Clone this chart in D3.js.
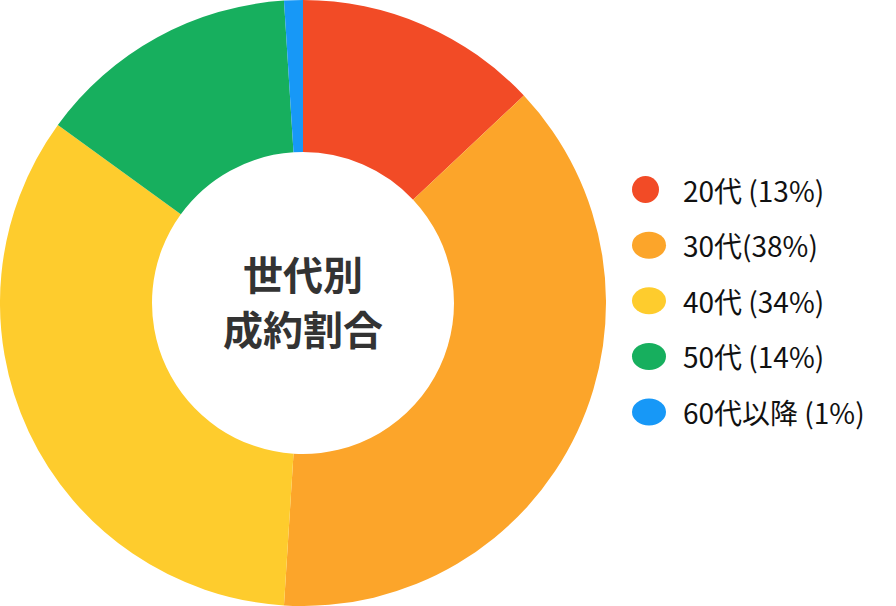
<!DOCTYPE html>
<html>
<head>
<meta charset="utf-8">
<script src="https://cdn.jsdelivr.net/npm/d3@7/dist/d3.min.js"></script>
<style>
  html, body { margin: 0; padding: 0; background: #fff; }
  svg { display: block; font-family: "Noto Sans CJK JP", "Noto Sans", sans-serif; }
</style>
</head>
<body>
<svg id="chart" width="896" height="606"></svg>
<script>
// Data
const categories = ['20代', '30代', '40代', '50代', '60代以降'];
const shares = [13, 38, 34, 14, 1];
const legendLabels = ['20代 (13%)', '30代(38%)', '40代 (34%)', '50代 (14%)', '60代以降 (1%)'];
const colors = ['#F24B26', '#FCA52A', '#FECC2D', '#17AF5E', '#1798F7'];
const centerLines = ['世代別', '成約割合'];

const svg = d3.select('#chart');
const cx = 303, cy = 303;
const outerR = 303, innerR = 151;

const pie = d3.pie().sort(null).value(d => d.value);
const arc = d3.arc().innerRadius(innerR).outerRadius(outerR);

const data = categories.map((c, i) => ({ name: c, value: shares[i] }));

const g = svg.append('g').attr('transform', `translate(${cx},${cy})`);

g.selectAll('path.slice')
  .data(pie(data))
  .enter().append('path')
  .attr('class', 'slice')
  .attr('d', arc)
  .attr('fill', (d, i) => colors[i]);

// Center label
g.selectAll('text.center')
  .data(centerLines)
  .enter().append('text')
  .attr('class', 'center')
  .attr('x', 0)
  .attr('y', (d, i) => -30 + i * 55)
  .attr('text-anchor', 'middle')
  .attr('dominant-baseline', 'central')
  .style('font-size', '40px')
  .style('font-weight', 'bold')
  .style('fill', '#333')
  .text(d => d);

// Legend
const legendY = d3.scaleLinear().domain([0, 4]).range([189.5, 412]);
const legend = svg.append('g').attr('class', 'legend');

const items = legend.selectAll('g.item')
  .data(legendLabels)
  .enter().append('g')
  .attr('class', 'item')
  .attr('transform', (d, i) => `translate(0,${legendY(i)})`);

items.append('ellipse')
  .attr('cx', (d, i) => i === 0 ? 645.5 : 649)
  .attr('cy', 0)
  .attr('rx', (d, i) => i === 0 ? 13.5 : 17)
  .attr('ry', 13.5)
  .attr('fill', (d, i) => colors[i]);

items.append('text')
  .attr('x', 683)
  .attr('y', 0)
  .attr('dominant-baseline', 'central')
  .style('font-size', '28px')
  .style('fill', '#111')
  .text(d => d);
</script>
</body>
</html>
